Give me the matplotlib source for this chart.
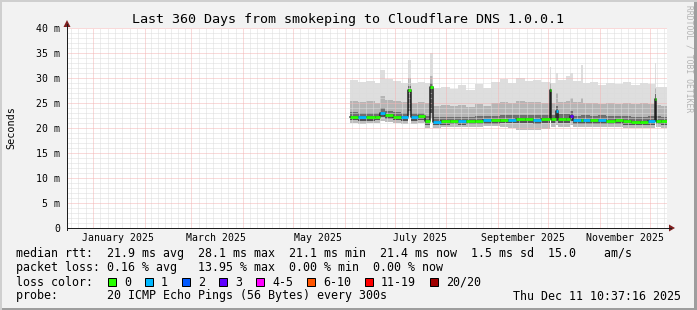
import matplotlib
matplotlib.use("Agg")
import matplotlib.pyplot as plt
import pandas as pd
from matplotlib.patches import Rectangle, Polygon
from matplotlib.lines import Line2D

# ---- data (milliseconds) ----
dates = ["2025-06-04", "2025-06-09", "2025-06-14", "2025-06-19", "2025-06-22", "2025-06-25",
         "2025-06-30", "2025-07-05", "2025-07-09", "2025-07-11", "2025-07-15", "2025-07-19",
         "2025-07-22", "2025-07-24", "2025-07-29", "2025-08-03", "2025-08-08", "2025-08-13",
         "2025-08-18", "2025-08-23", "2025-08-28", "2025-09-02", "2025-09-07", "2025-09-12",
         "2025-09-17", "2025-09-22", "2025-09-27", "2025-10-02", "2025-10-03", "2025-10-06",
         "2025-10-07", "2025-10-12", "2025-10-14", "2025-10-16", "2025-10-21", "2025-10-22",
         "2025-10-26", "2025-10-31", "2025-11-05", "2025-11-10", "2025-11-15", "2025-11-20",
         "2025-11-25", "2025-11-30", "2025-12-04", "2025-12-05", "2025-12-08", "2025-12-11 10:37"]
median_ms = [22.3, 22.2, 22.2, 22.3, 23.0, 22.6, 22.3, 22.2, 27.6, 22.2, 22.4, 21.4,
             28.3, 21.3, 21.4, 21.5, 21.4, 21.5, 21.5, 21.6, 21.6, 21.7, 21.7, 21.8,
             21.8, 21.7, 21.8, 27.6, 21.8, 23.5, 21.9, 21.8, 22.4, 21.6, 21.6, 21.7,
             21.6, 21.7, 21.5, 21.6, 21.4, 21.3, 21.3, 21.4, 25.9, 21.5, 21.4, 21.4]
smoke_top = [29.6, 29.2, 29.4, 29.0, 31.6, 29.8, 29.4, 29.0, 33.6, 29.0, 29.2, 29.0,
             35.0, 28.0, 28.3, 27.8, 28.6, 27.6, 28.8, 28.0, 29.2, 29.8, 29.0, 30.0,
             29.4, 29.6, 29.2, 32.3, 29.0, 31.0, 29.6, 30.4, 31.0, 29.4, 32.6, 29.0,
             29.2, 28.6, 29.0, 28.8, 29.2, 28.6, 29.0, 28.8, 33.0, 28.3, 28.2, 28.2]
smoke_hi2 = [25.5, 25.2, 25.4, 25.0, 26.5, 25.6, 25.4, 25.2, 30.0, 25.0, 25.2, 25.0,
             30.5, 24.5, 24.6, 24.4, 24.6, 24.2, 24.8, 24.5, 25.0, 25.2, 25.0, 25.4,
             25.2, 25.2, 25.0, 29.0, 25.0, 27.0, 25.3, 25.5, 26.0, 25.2, 26.0, 25.0,
             25.0, 24.8, 25.0, 24.8, 25.0, 24.8, 25.0, 24.8, 28.0, 24.6, 24.5, 24.5]
smoke_hi1 = [23.2, 23.0, 23.1, 23.0, 24.0, 23.4, 23.2, 23.0, 28.5, 23.0, 23.1, 22.4,
             29.0, 22.2, 22.3, 22.3, 22.3, 22.3, 22.4, 22.4, 22.5, 22.6, 22.6, 22.7,
             22.7, 22.6, 22.7, 28.0, 22.7, 24.5, 22.8, 22.8, 23.4, 22.5, 22.6, 22.6,
             22.5, 22.6, 22.4, 22.5, 22.4, 22.3, 22.3, 22.4, 26.8, 22.4, 22.3, 22.3]
smoke_lo1 = [21.6, 21.5, 21.5, 21.6, 22.2, 21.9, 21.6, 21.5, 23.5, 21.4, 21.6, 20.6,
             23.0, 20.6, 20.7, 20.8, 20.7, 20.8, 20.8, 20.9, 20.9, 21.0, 21.0, 21.0,
             21.0, 20.9, 21.0, 22.8, 21.0, 21.5, 21.0, 21.0, 21.4, 20.8, 20.8, 20.9,
             20.8, 20.9, 20.8, 20.8, 20.7, 20.6, 20.6, 20.7, 22.8, 20.8, 20.7, 20.7]
smoke_lo2 = [21.0, 20.9, 21.0, 21.0, 21.5, 21.3, 21.0, 20.9, 22.6, 20.8, 21.0, 20.0,
             22.0, 20.0, 20.2, 20.3, 20.2, 20.3, 20.3, 20.4, 20.4, 20.2, 20.0, 19.6,
             19.6, 19.7, 19.8, 22.2, 20.2, 20.6, 20.3, 20.3, 20.6, 20.2, 20.2, 20.3,
             20.2, 20.3, 20.2, 20.2, 20.1, 20.0, 20.0, 20.1, 22.2, 20.2, 20.1, 20.1]
loss_idx = [0, 1, 0, 0, 1, 0, 0, 1, 0, 1, 0, 0,
            0, 1, 0, 0, 1, 0, 0, 1, 0, 0, 1, 0,
            0, 1, 0, 0, 0, 1, 0, 0, 3, 1, 0, 1,
            0, 1, 0, 0, 0, 0, 0, 1, 0, 0, 0, 0]

loss_labels = ["0", "1", "2", "3", "4-5", "6-10", "11-19", "20/20"]
loss_colors = ["#26ff00", "#00b8ff", "#0059ff", "#5e00ff", "#ff00ff", "#ff5500", "#ff0000", "#a00000"]

month_labels = ["January 2025", "March 2025", "May 2025", "July 2025", "September 2025", "November 2025"]
label_months = ["2025-01-01", "2025-03-01", "2025-05-01", "2025-07-01", "2025-09-01", "2025-11-01"]

stats_lines = [
    "median rtt:  21.9 ms avg  28.1 ms max  21.1 ms min  21.4 ms now  1.5 ms sd  15.0    am/s",
    "packet loss: 0.16 % avg   13.95 % max  0.00 % min  0.00 % now",
    "loss color:",
    "probe:       20 ICMP Echo Pings (56 Bytes) every 300s",
]
stamp = "Thu Dec 11 10:37:16 2025"

t_start = pd.Timestamp("2024-12-16 10:37:16")
t_end = pd.Timestamp("2025-12-11 10:37:16")

# ---- figure ----
plt.rcParams["font.family"] = ["DejaVu Sans Mono"]
W, H, DPI = 697, 310, 100
fig = plt.figure(figsize=(W / DPI, H / DPI), dpi=DPI, facecolor="#f2f2f2")
X0, X1, Y0, Y1 = 67, 667, 228, 28
ax = fig.add_axes([X0 / W, 1 - Y0 / H, (X1 - X0) / W, (Y0 - Y1) / H])
ax.set_facecolor("white")
for s in ax.spines.values():
    s.set_visible(False)

t = pd.to_datetime(dates, format="mixed")

# smoke
bands = [(smoke_hi2, smoke_top, "#dedede"),
         (smoke_hi1, smoke_hi2, "#b5b5b5"),
         (median_ms, smoke_hi1, "#6e6e6e"),
         (smoke_lo1, median_ms, "#555555"),
         (smoke_lo2, smoke_lo1, "#bdbdbd")]
for lo, hi, c in bands:
    ax.fill_between(t, lo, hi, step="post", color=c, lw=0, zorder=1)

# grid (1px dotted, rrdtool style)
px_lw = 72 / DPI
grid_kw = dict(lw=px_lw, dashes=(1, 1), zorder=2)
minor_c, major_c = "#dcdcdc", "#f4b4b4"
months = pd.date_range("2025-01-01", "2025-12-01", freq="MS")
for m in months.insert(0, pd.Timestamp("2024-12-01")):
    nxt = m + pd.offsets.MonthBegin(1)
    step = (nxt - m) / 7
    for k in range(1, 7):
        ax.axvline(m + k * step, color=minor_c, **grid_kw)
for v in range(0, 41):
    if v % 5:
        ax.axhline(v, color=minor_c, **grid_kw)
for v in range(5, 41, 5):
    ax.axhline(v, color=major_c, **grid_kw)
for m in months:
    ax.axvline(m, color=major_c, **grid_kw)

# median line coloured by loss
ax.step(t, median_ms, where="post", color="#202020", lw=1.5 * px_lw, zorder=3)
for i in range(len(t) - 1):
    ax.plot([t[i], t[i + 1]], [median_ms[i]] * 2, color=loss_colors[loss_idx[i]],
            lw=2.8 * px_lw, solid_capstyle="butt", zorder=4)

ax.set_xlim(t_start, t_end)
ax.set_ylim(0, 40)
ax.set_yticks(range(0, 41, 5))
ax.set_yticklabels(["0"] + [f"{v} m" for v in range(5, 41, 5)])
ax.set_xticks(pd.to_datetime(label_months) + pd.Timedelta(days=15))
ax.set_xticklabels(month_labels)
ax.tick_params(axis="y", length=0, pad=5, labelsize=7.1)
ax.tick_params(axis="x", length=0, pad=3.5, labelsize=7.1)

# axes + arrows
def fx(x):
    return x / W

def fy(y):
    return 1 - y / H

fig.add_artist(Line2D([fx(X0), fx(671)], [fy(Y0), fy(Y0)], color="#1f1f1f", lw=px_lw))
fig.add_artist(Line2D([fx(X0), fx(X0)], [fy(Y0 + 2), fy(24)], color="#1f1f1f", lw=px_lw))
fig.add_artist(Polygon([(fx(669), fy(224.5)), (fx(675), fy(228)), (fx(669), fy(231.5))],
                       closed=True, color="#801f1f", lw=0))
fig.add_artist(Polygon([(fx(63.5), fy(27)), (fx(67), fy(20)), (fx(70.5), fy(27))],
                       closed=True, color="#801f1f", lw=0))

# texts
fig.text(0.5, fy(19), "Last 360 Days from smokeping to Cloudflare DNS 1.0.0.1",
         ha="center", va="center", fontsize=9.6)
fig.text(fx(11), fy(128), "Seconds", rotation=90, ha="center", va="center", fontsize=7.3)
fig.text(fx(689), fy(5), "RRDTOOL / TOBI OETIKER", rotation=-90, ha="center", va="top",
         fontsize=5.8, color="#b4b4b4")

line_y = [254, 268, 282, 296]
for y, s in zip(line_y, stats_lines):
    fig.text(fx(16), fy(y), s, ha="left", va="center", fontsize=8.4)
fig.text(fx(681), fy(296), stamp, ha="right", va="center", fontsize=8.4)

bx = 108
for lab, c in zip(loss_labels, loss_colors):
    fig.add_artist(Rectangle((fx(bx), fy(286)), 8 / W, 8 / H, transform=fig.transFigure,
                             facecolor=c, edgecolor="#000000", lw=px_lw))
    fig.text(fx(bx + 16), fy(282), lab, ha="left", va="center", fontsize=8.4)
    bx = bx + 16 + 7 * len(lab) + 14

# frame
fig.add_artist(Rectangle((0, 0), 1, 2 / H, transform=fig.transFigure, color="#9e9e9e", lw=0))
fig.add_artist(Rectangle((1 - 3 / W, 0), 3 / W, 1, transform=fig.transFigure, color="#9e9e9e", lw=0))
fig.add_artist(Rectangle((0, 1 - 2 / H), 1, 2 / H, transform=fig.transFigure, color="#cfcfcf", lw=0))
fig.add_artist(Rectangle((0, 0), 2 / W, 1, transform=fig.transFigure, color="#cfcfcf", lw=0))

fig.savefig("out.png", dpi=DPI, facecolor=fig.get_facecolor())
